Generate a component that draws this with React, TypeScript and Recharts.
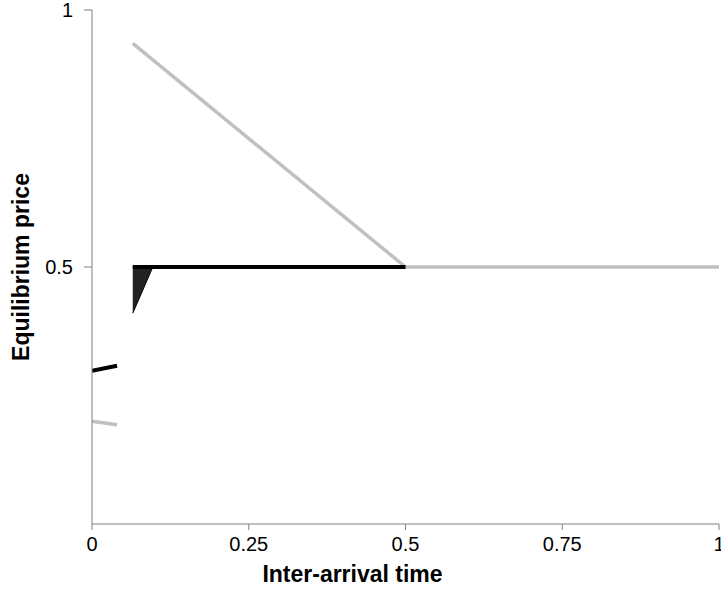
import { ComposedChart, Line, Area, XAxis, YAxis, Label } from "recharts";

const X_TICKS = [0, 0.25, 0.5, 0.75, 1];
const Y_TICKS = [0.5, 1];

// grey: price of the upper curve
const greyMain = [
  { x: 0.065, y: 0.935 },
  { x: 0.5, y: 0.5 },
  { x: 1, y: 0.5 },
];
const greyShort = [
  { x: 0, y: 0.2 },
  { x: 0.04, y: 0.193 },
];

// black: flat price and its short early piece
const blackMain = [
  { x: 0.065, y: 0.5 },
  { x: 0.5, y: 0.5 },
];
const blackShort = [
  { x: 0, y: 0.298 },
  { x: 0.04, y: 0.308 },
];

// filled wedge below the black line
const wedge = [
  { x: 0.065, range: [0.41, 0.5] },
  { x: 0.097, range: [0.5, 0.5] },
];

const GREY = "#c0c0c0";
const AXIS = "#808080";
const font = "'Liberation Sans', Arial, sans-serif";

export default function App() {
  return (
    <div style={{ position: "absolute", left: 0, top: 0, width: 721, height: 592, background: "#fff" }}>
      <ComposedChart
        width={721}
        height={592}
        margin={{ top: 10, right: 2, bottom: 0, left: 0 }}
        style={{ fontFamily: font, overflow: "visible" }}
      >
        <XAxis
          type="number"
          dataKey="x"
          domain={[0, 1]}
          ticks={X_TICKS}
          interval={0}
          tickFormatter={(v) => `${v}`}
          stroke={AXIS}
          tickSize={6}
          tickMargin={7}
          tick={{ fontSize: 20, fill: "#000" }}
          height={68}
          allowDataOverflow
        >
          <Label value="Inter-arrival time" position="insideBottom" offset={10} dx={-53} style={{ fontSize: 23, fontWeight: "bold", fill: "#000" }} />
        </XAxis>
        <YAxis
          type="number"
          domain={[0, 1]}
          ticks={Y_TICKS}
          interval={0}
          tickFormatter={(v) => `${v}`}
          stroke={AXIS}
          tickSize={8}
          tickMargin={11}
          tick={{ fontSize: 20, fill: "#000" }}
          width={92}
          allowDataOverflow
        >
          <Label value="Equilibrium price" angle={-90} position="insideLeft" offset={21} style={{ fontSize: 23, fontWeight: "bold", fill: "#000", textAnchor: "middle" }} />
        </YAxis>
        <Area data={wedge} dataKey="range" type="linear" fill="#222" fillOpacity={1} stroke="#000" strokeWidth={1} isAnimationActive={false} />
        <Line data={greyMain} dataKey="y" type="linear" stroke={GREY} strokeWidth={3.5} dot={false} isAnimationActive={false} />
        <Line data={greyShort} dataKey="y" type="linear" stroke={GREY} strokeWidth={3.5} dot={false} isAnimationActive={false} />
        <Line data={blackMain} dataKey="y" type="linear" stroke="#000" strokeWidth={4} dot={false} isAnimationActive={false} />
        <Line data={blackShort} dataKey="y" type="linear" stroke="#000" strokeWidth={4} dot={false} isAnimationActive={false} />
      </ComposedChart>
    </div>
  );
}
